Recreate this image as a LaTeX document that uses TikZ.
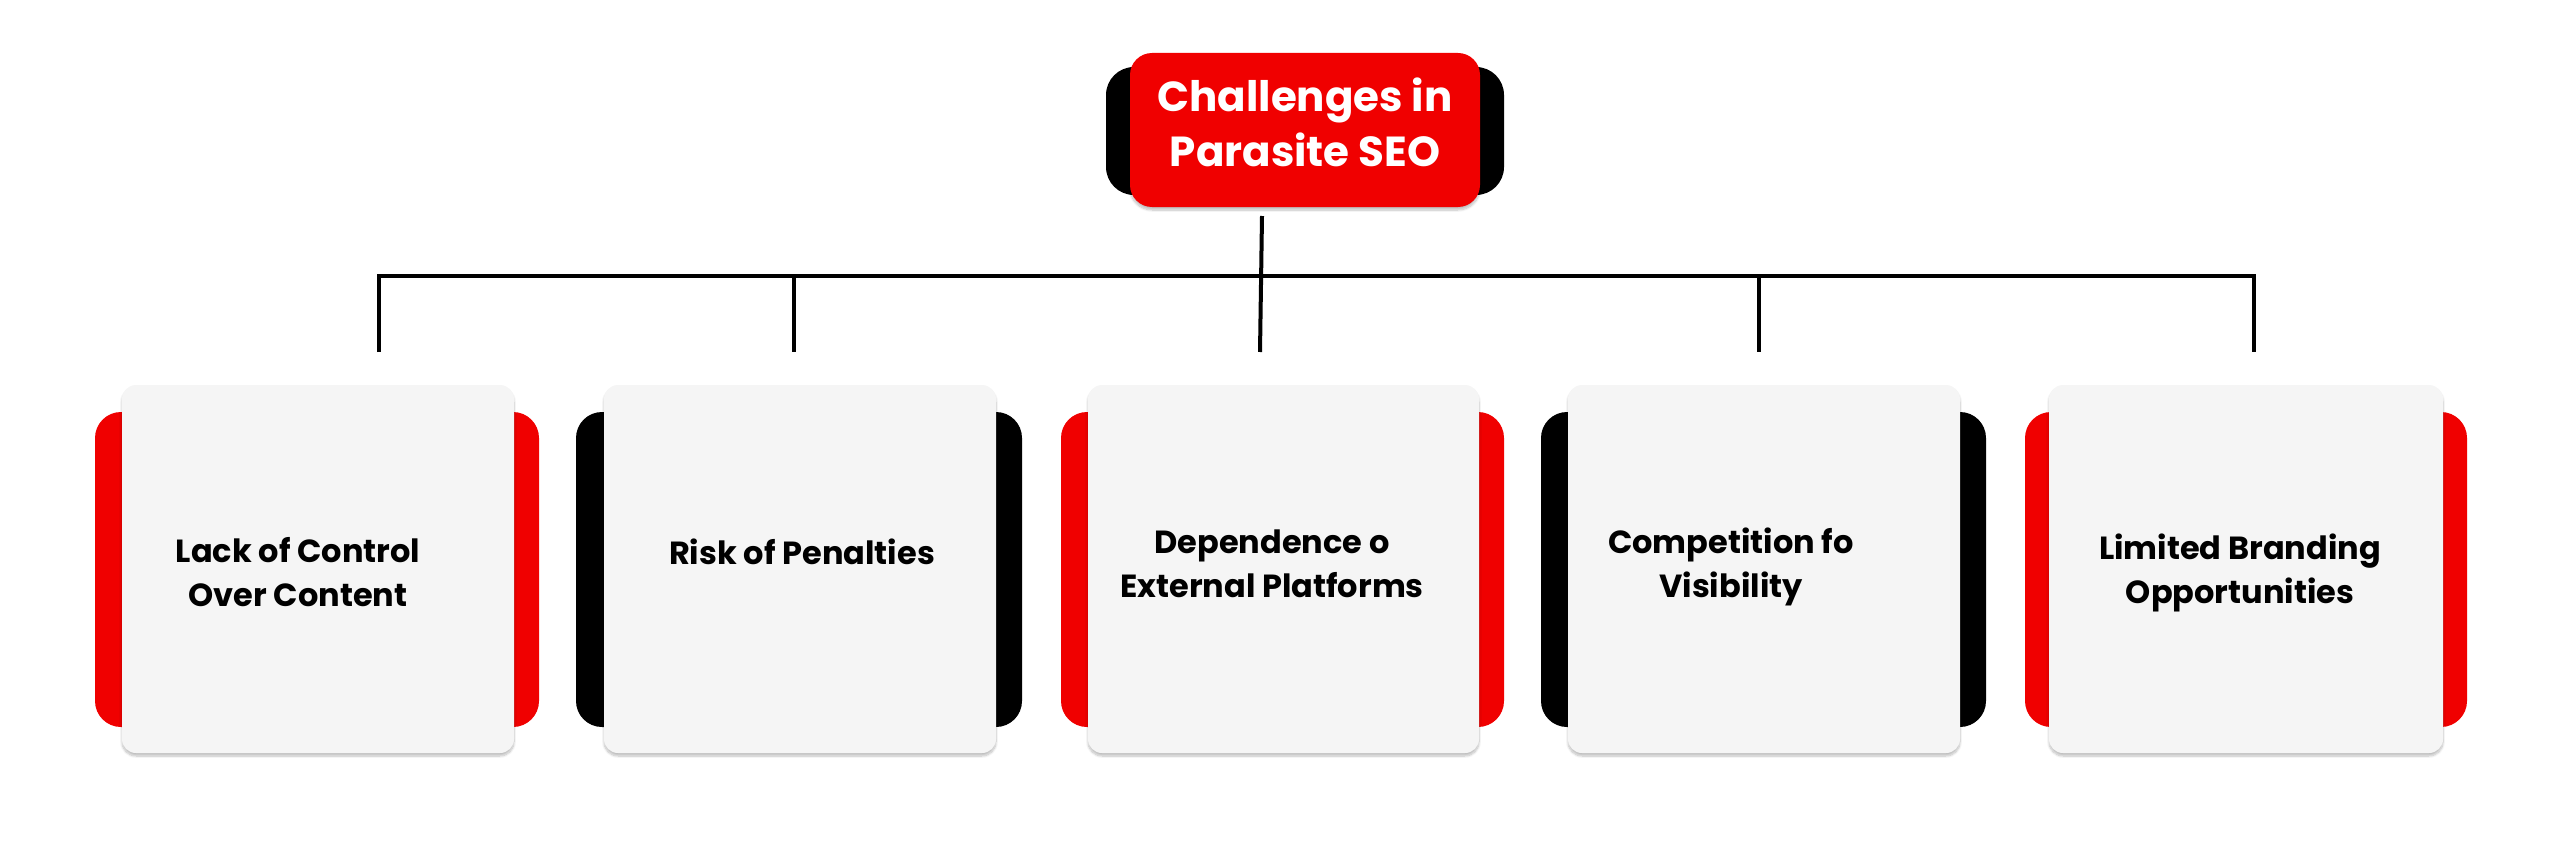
\documentclass[tikz,border=0pt]{standalone}
\usepackage{fontspec}
\setmainfont{Poppins}
\usetikzlibrary{shadows.blur}
\definecolor{myred}{RGB}{240,0,0}
\definecolor{cardgray}{RGB}{245,245,245}
\begin{document}
\begin{tikzpicture}[x=1pt,y=-1pt,
  back/.style={rounded corners=26pt},
  card/.style={fill=cardgray,rounded corners=14pt,blur shadow={shadow blur steps=8,shadow xshift=0pt,shadow yshift=-3pt,shadow opacity=25}},
  lbl/.style={align=center,font=\fontsize{32}{44}\selectfont\bfseries,text=black},
  conn/.style={line width=4pt}]
\useasboundingbox (0,0) rectangle (2560,848);
% title
\fill[black,rounded corners=28pt] (1106,67) rectangle (1504,195);
\fill[myred,rounded corners=22pt,blur shadow={shadow blur steps=8,shadow opacity=25,shadow xshift=0pt,shadow yshift=-3pt}] (1130,53) rectangle (1480,207);
\node[lbl,text=white,font=\fontsize{42}{55}\selectfont\bfseries] (title) at (1305,122) {Challenges in\\Parasite SEO};
\coordinate (tb) at (1262,216);
\coordinate (hub) at (1262,276);
% cards
\foreach \gl/\gr/\bl/\br/\col/\n in {122/514/95/539/myred/1, 604/996/576/1022/black/2, 1088/1479/1061/1504/myred/3, 1568/1960/1541/1986/black/4, 2049/2443/2025/2467/myred/5}{
  \fill[\col,back] (\bl,412) rectangle (\br,727);
  \fill[card] (\gl,385) rectangle (\gr,753);
}
\node[lbl] (c1) at (298,572) {Lack of Control\\Over Content};
\node[lbl] (c2) at (802,552) {Risk of Penalties};
\node[lbl] (c3) at (1272,564) {Dependence o\\External Platforms};
\node[lbl] (c4) at (1731,567) {Competition fo\\Visibility};
\node[lbl] (c5) at (2240,573) {Limited Branding\\Opportunities};
% connectors
\coordinate (d1) at (379,352); \coordinate (d2) at (794,352); \coordinate (d3) at (1260,352);
\coordinate (d4) at (1759,352); \coordinate (d5) at (2254,352);
\draw[conn] (tb) -- (d3);
\draw[conn] (d1) -- (379,276) -- (2254,276) -- (d5);
\draw[conn] (794,276) -- (d2);
\draw[conn] (1759,276) -- (d4);
\end{tikzpicture}
\end{document}
